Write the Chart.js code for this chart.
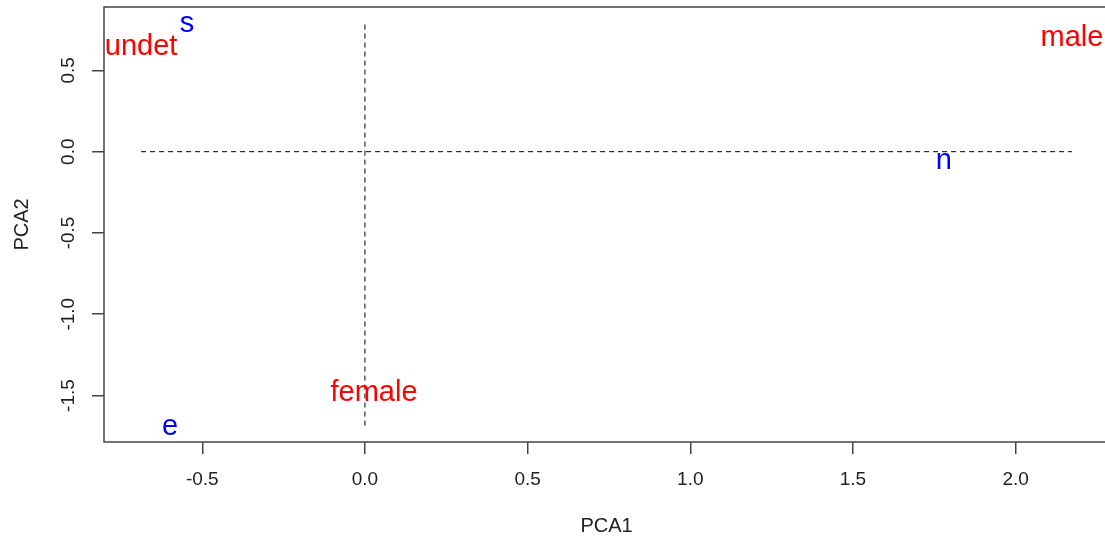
<!DOCTYPE html>
<html>
<head>
<meta charset="utf-8">
<title>PCA</title>
<script src="https://cdn.jsdelivr.net/npm/chart.js@4/dist/chart.umd.min.js"></script>
<style>
    html, body { margin: 0; padding: 0; background: #fff; overflow: hidden; }
    #wrap { width: 1112px; height: 539px; }
</style>
</head>
<body>
<div id="wrap"><canvas id="pcaChart" width="1112" height="539"></canvas></div>
<script>
    // Puntuaciones PCA (sexo en rojo, especie en azul)
    const sexLabels = ["undet", "male", "female"];
    const sexPCA1 = [-0.688, 2.173, 0.028];
    const sexPCA2 = [0.650, 0.707, -1.479];

    const spLabels = ["s", "n", "e"];
    const spPCA1 = [-0.547, 1.779, -0.599];
    const spPCA2 = [0.793, -0.049, -1.685];

    // Ejes
    const xTicks = [-0.5, 0.0, 0.5, 1.0, 1.5, 2.0];
    const yTicks = [-1.5, -1.0, -0.5, 0.0, 0.5];
    const xRange = [-0.802, 2.287];
    const yRange = [-1.786, 0.890];

    // Líneas de referencia discontinuas
    const hLineX = [-0.688, 2.173];
    const vLineY = [-1.685, 0.793];

    const FONT = "'Liberation Sans', Arial, sans-serif";

    function toPoints(xs, ys) {
        return xs.map((x, i) => ({ x: x, y: ys[i] }));
    }

    // Dibuja cada etiqueta en la posición de su punto
    const textLabels = {
        id: 'textLabels',
        afterDatasetsDraw(chart) {
            const ctx = chart.ctx;
            ctx.save();
            ctx.font = "29px " + FONT;
            ctx.textAlign = 'center';
            ctx.textBaseline = 'alphabetic';
            chart.data.datasets.forEach((ds, i) => {
                if (!ds.words) return;
                const meta = chart.getDatasetMeta(i);
                ctx.fillStyle = ds.textColor;
                meta.data.forEach((pt, j) => {
                    ctx.fillText(ds.words[j], pt.x, pt.y + 9);
                });
            });
            ctx.restore();
        }
    };

    // Marco alrededor del área de dibujo
    const plotBox = {
        id: 'plotBox',
        afterDraw(chart) {
            const a = chart.chartArea;
            const ctx = chart.ctx;
            ctx.save();
            ctx.strokeStyle = '#444';
            ctx.lineWidth = 1.5;
            ctx.strokeRect(a.left, a.top, a.right - a.left, a.bottom - a.top);
            ctx.restore();
        }
    };

    const fmt = v => Number(v).toFixed(1);

    // Sin márgenes extra para las etiquetas de los extremos
    function noEdgePadding(s) {
        s.paddingTop = 0;
        s.paddingBottom = 0;
        s.paddingLeft = 0;
        s.paddingRight = 0;
    }

    const config = {
        type: 'scatter',
        data: {
            datasets: [
                {
                    type: 'line',
                    data: hLineX.map(x => ({ x: x, y: 0 })),
                    borderColor: '#000',
                    borderWidth: 1,
                    borderDash: [5, 4],
                    pointRadius: 0,
                    fill: false
                },
                {
                    type: 'line',
                    data: vLineY.map(y => ({ x: 0, y: y })),
                    borderColor: '#000',
                    borderWidth: 1,
                    borderDash: [5, 4],
                    pointRadius: 0,
                    fill: false
                },
                {
                    data: toPoints(sexPCA1, sexPCA2),
                    words: sexLabels,
                    textColor: '#ff0000',
                    pointRadius: 0
                },
                {
                    data: toPoints(spPCA1, spPCA2),
                    words: spLabels,
                    textColor: '#0000ff',
                    pointRadius: 0
                }
            ]
        },
        options: {
            responsive: false,
            animation: false,
            layout: { padding: { top: 7, right: 3, bottom: 0, left: 0 } },
            plugins: {
                legend: { display: false },
                tooltip: { enabled: false }
            },
            scales: {
                x: {
                    type: 'linear',
                    min: xRange[0],
                    max: xRange[1],
                    afterBuildTicks: s => { s.ticks = xTicks.map(v => ({ value: v })); },
                    afterFit: s => { s.height = 539 - 442; noEdgePadding(s); },
                    border: { display: false },
                    grid: { drawOnChartArea: false, drawTicks: true, tickLength: 12, tickColor: '#444', lineWidth: 1.5 },
                    ticks: {
                        color: '#222',
                        padding: 14,
                        font: { family: FONT, size: 19 },
                        maxRotation: 0,
                        callback: fmt
                    },
                    title: {
                        display: true,
                        text: 'PCA1',
                        color: '#222',
                        font: { family: FONT, size: 20 },
                        padding: { top: 0, bottom: 1 }
                    }
                },
                y: {
                    type: 'linear',
                    min: yRange[0],
                    max: yRange[1],
                    afterBuildTicks: s => { s.ticks = yTicks.map(v => ({ value: v })); },
                    afterFit: s => { s.width = 104; noEdgePadding(s); },
                    border: { display: false },
                    grid: { drawOnChartArea: false, drawTicks: true, tickLength: 12, tickColor: '#444', lineWidth: 1.5 },
                    ticks: {
                        color: '#222',
                        padding: 7,
                        crossAlign: 'center',
                        minRotation: 90,
                        maxRotation: 90,
                        font: { family: FONT, size: 19 },
                        callback: fmt
                    },
                    title: {
                        display: true,
                        text: 'PCA2',
                        color: '#222',
                        font: { family: FONT, size: 20 },
                        padding: { top: 10, bottom: 0 }
                    }
                }
            }
        },
        plugins: [textLabels, plotBox]
    };

    const ctx = document.getElementById('pcaChart').getContext('2d');
    new Chart(ctx, config);
</script>
</body>
</html>
